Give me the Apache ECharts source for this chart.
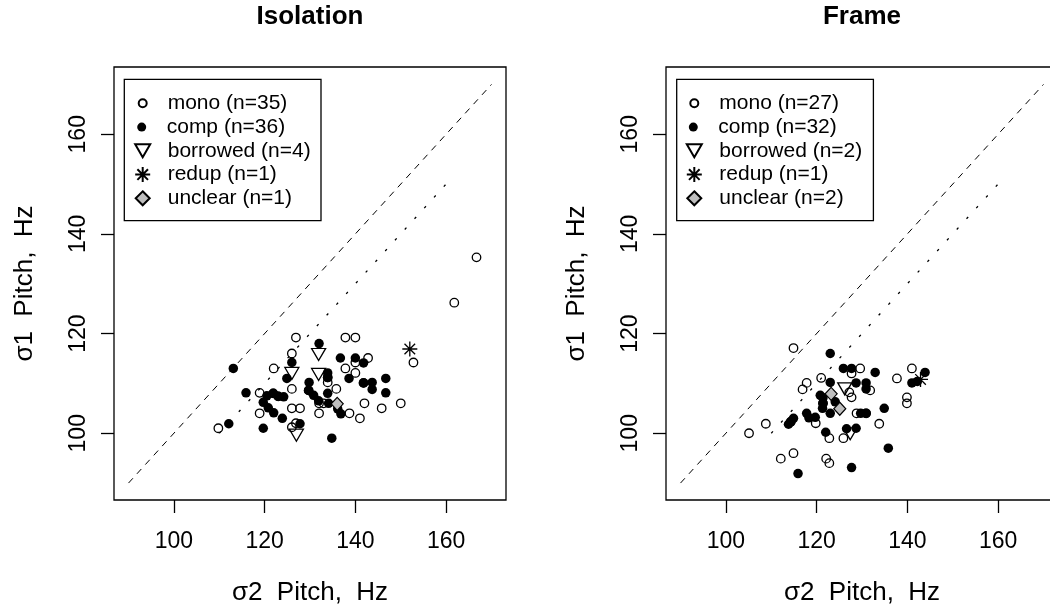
<!DOCTYPE html>
<html>
<head>
<meta charset="utf-8">
<script src="https://cdn.jsdelivr.net/npm/echarts@6/dist/echarts.min.js"></script>
<style>
  html, body { margin: 0; padding: 0; background: #ffffff; }
  #chart { width: 1050px; height: 613px; }
</style>
</head>
<body>
<div id="chart"></div>
<script>
// ---- data: sigma2 pitch (x, Hz) vs sigma1 pitch (y, Hz) ----
const panelTitles = ['Isolation', 'Frame'];
const xTicks = [100, 120, 140, 160];
const yTicks = [100, 120, 140, 160];
const xAxisTitle = 'σ2  Pitch,  Hz';
const yAxisTitle = 'σ1  Pitch,  Hz';

const isoLabels = ['mono (n=35)', 'comp (n=36)', 'borrowed (n=4)', 'redup (n=1)', 'unclear (n=1)'];
const frameLabels = ['mono (n=27)', 'comp (n=32)', 'borrowed (n=2)', 'redup (n=1)', 'unclear (n=2)'];

const isoMono = [
  [166.7, 135.3], [161.8, 126.2], [152.8, 114.2], [150.0, 106.0], [145.8, 105.0],
  [142.0, 106.0], [141.0, 103.0], [138.7, 104.0], [137.8, 119.2], [140.0, 119.2],
  [142.8, 115.1], [140.0, 114.2], [137.8, 113.0], [140.0, 112.1], [135.8, 108.9],
  [133.9, 110.2], [132.0, 106.0], [133.0, 106.0], [132.0, 104.0], [126.0, 105.0],
  [127.8, 105.0], [126.0, 108.9], [126.0, 116.0], [126.9, 119.2], [122.0, 113.0],
  [118.9, 108.1], [118.9, 104.0], [109.8, 101.0], [126.0, 101.2], [126.9, 102.0],
  [121.9, 108.0], [129.7, 108.6], [123.0, 107.4], [133.9, 111.2], [141.8, 110.1]
];
const isoComp = [
  [113.1, 113.0], [112.1, 101.9], [119.7, 101.0], [115.9, 108.1], [119.7, 106.2],
  [120.8, 105.1], [122.0, 104.1], [123.9, 103.0], [120.5, 107.5], [121.9, 108.0],
  [123.0, 107.4], [124.2, 107.3], [126.0, 114.2], [124.9, 111.0], [127.8, 101.9],
  [129.8, 110.2], [129.7, 108.6], [130.8, 107.6], [131.9, 106.5], [132.0, 118.0],
  [133.9, 112.1], [133.9, 111.2], [133.9, 108.0], [134.8, 99.0], [136.7, 115.1],
  [140.0, 115.1], [141.8, 114.1], [138.6, 111.0], [141.8, 110.1], [143.7, 110.2],
  [143.7, 108.8], [146.7, 111.0], [146.7, 108.1], [136.1, 104.9], [136.8, 103.9],
  [134.1, 106.0]
];
const isoBorrowed = [[131.9, 115.8], [131.9, 111.8], [126.0, 112.0], [127.0, 99.6]];
const isoRedup = [[152.0, 116.9]];
const isoUnclear = [[136.0, 105.9]];

const frameMono = [
  [114.9, 117.1], [108.8, 101.9], [105.1, 100.0], [112.1, 94.9], [114.9, 96.0],
  [122.1, 94.9], [122.8, 94.0], [117.8, 110.1], [116.9, 108.8], [121.0, 111.1],
  [119.8, 102.0], [122.8, 99.0], [125.9, 99.0], [127.7, 112.0], [129.6, 113.0],
  [127.7, 107.2], [131.8, 108.6], [128.8, 104.0], [133.8, 101.9], [137.7, 111.0],
  [141.0, 113.0], [139.9, 107.2], [139.9, 106.0], [127.2, 108.2], [121.4, 106.0],
  [130.9, 104.0], [114.3, 102.3]
];
const frameComp = [
  [123.0, 116.0], [125.9, 113.0], [127.7, 113.0], [132.9, 112.2], [123.0, 110.2],
  [128.7, 110.1], [130.9, 110.1], [130.9, 108.9], [121.4, 107.1], [121.4, 106.0],
  [121.3, 105.0], [117.8, 104.0], [118.3, 103.1], [119.7, 103.2], [114.9, 103.0],
  [114.3, 102.3], [113.8, 101.8], [123.0, 104.0], [122.0, 100.2], [126.6, 100.9],
  [128.7, 101.0], [129.7, 104.0], [130.9, 104.0], [134.9, 105.0], [135.8, 97.0],
  [127.7, 93.1], [115.9, 91.9], [141.0, 110.1], [143.9, 112.2], [124.1, 106.3],
  [120.8, 107.6], [142.2, 110.4]
];
const frameBorrowed = [[126.2, 108.9], [127.4, 99.9]];
const frameRedup = [[142.9, 110.8]];
const frameUnclear = [[123.2, 107.9], [125.1, 104.9]];

// reference lines: identity and a 10 Hz offset
const identityLine = [[90, 90], [170, 170]];
const offsetLine = [[110, 100], [160, 150]];

// ---- styling ----
const FONT = '"Liberation Sans", Arial, Helvetica, sans-serif';
const STAR = 'path://M0,8L16,8M8,0L8,16M2.34,2.34L13.66,13.66M13.66,2.34L2.34,13.66';
const TRI_DOWN = 'path://M0,0L14,0L7,12Z';
const kinds = ['mono', 'comp', 'borrowed', 'redup', 'unclear'];
const kindStyle = {
  mono:     { symbol: 'circle',  size: 8.5,      item: { color: 'rgba(0,0,0,0)', borderColor: '#000', borderWidth: 1.3, opacity: 1 } },
  comp:     { symbol: 'circle',  size: 9.5,      item: { color: '#000', borderColor: '#000', borderWidth: 0, opacity: 1 } },
  borrowed: { symbol: TRI_DOWN,  size: [14, 12], item: { color: 'rgba(0,0,0,0)', borderColor: '#000', borderWidth: 1.3, opacity: 1 } },
  redup:    { symbol: STAR,      size: 15,       item: { color: '#000', borderColor: '#000', borderWidth: 1.3, opacity: 1 } },
  unclear:  { symbol: 'diamond', size: [12, 13], item: { color: '#bebebe', borderColor: '#000', borderWidth: 1.2, opacity: 1 } }
};
const legendIconSize = { mono: [8, 8], comp: [9, 9], borrowed: [15, 13], redup: [15, 15], unclear: [14, 14] };

const panels = [
  { left: 114, legendX: 141.7, legendBox: [124.3, 79.3, 196.7, 141.4], titleX: 310,
    labels: isoLabels, data: [isoMono, isoComp, isoBorrowed, isoRedup, isoUnclear] },
  { left: 666, legendX: 693.3, legendBox: [676.7, 79.3, 196.7, 141.4], titleX: 862,
    labels: frameLabels, data: [frameMono, frameComp, frameBorrowed, frameRedup, frameUnclear] }
];
const GRID_TOP = 67, GRID_W = 392, GRID_H = 433;
const legendRowY = [103.3, 127.1, 150.8, 174.6, 198.3];

const grids = [], xAxes = [], yAxes = [], series = [], legends = [], graphics = [];

panels.forEach((p, i) => {
  grids.push({
    left: p.left, top: GRID_TOP, width: GRID_W, height: GRID_H,
    show: true, borderColor: '#000', borderWidth: 1.3, backgroundColor: 'transparent',
    containLabel: false, outerBoundsMode: 'none'
  });
  xAxes.push({
    type: 'value', gridIndex: i, min: 86.8, max: 173.2,
    axisLine: { show: false }, splitLine: { show: false },
    axisTick: { show: true, length: 13, customValues: xTicks, lineStyle: { color: '#000', width: 1.3 } },
    axisLabel: { customValues: xTicks, margin: 30, color: '#000', fontSize: 23, fontFamily: FONT },
    name: xAxisTitle, nameLocation: 'middle', nameGap: 80,
    nameTextStyle: { color: '#000', fontSize: 26, fontFamily: FONT }
  });
  yAxes.push({
    type: 'value', gridIndex: i, min: 86.6, max: 173.5,
    axisLine: { show: false }, splitLine: { show: false },
    axisTick: { show: true, length: 13, customValues: yTicks, lineStyle: { color: '#000', width: 1.3 } },
    axisLabel: { customValues: yTicks, rotate: 90, margin: 24, color: '#000', fontSize: 23, fontFamily: FONT },
    name: yAxisTitle, nameLocation: 'middle', nameGap: 76,
    nameTextStyle: { color: '#000', fontSize: 26, fontFamily: FONT }
  });

  series.push({
    type: 'line', xAxisIndex: i, yAxisIndex: i, data: identityLine, symbol: 'none', silent: true,
    lineStyle: { color: '#000', width: 1, type: [6.5, 6] }, z: 1
  });
  series.push({
    type: 'line', xAxisIndex: i, yAxisIndex: i, data: offsetLine, symbol: 'none', silent: true,
    lineStyle: { color: '#000', width: 1.3, type: [2.5, 12] }, z: 1
  });

  kinds.forEach((k, j) => {
    const s = kindStyle[k];
    series.push({
      type: 'scatter', name: p.labels[j], xAxisIndex: i, yAxisIndex: i,
      data: p.data[j], symbol: s.symbol, symbolSize: s.size,
      itemStyle: s.item, silent: true, z: 2 + j
    });
    const sz = legendIconSize[k];
    legends.push({
      left: p.legendX - sz[0] / 2, top: legendRowY[j] - 10.5, padding: 0,
      orient: 'vertical', itemWidth: sz[0], itemHeight: sz[1], itemGap: 0,
      selectedMode: false, symbolKeepAspect: true,
      itemStyle: { opacity: 1 },
      data: [p.labels[j]],
      textStyle: { color: '#000', fontSize: 21, fontFamily: FONT, padding: [0, 0, 0, 20 - sz[0] / 2] }
    });
  });

  graphics.push({
    type: 'rect', silent: true,
    shape: { x: p.legendBox[0], y: p.legendBox[1], width: p.legendBox[2], height: p.legendBox[3] },
    style: { fill: 'none', stroke: '#000', lineWidth: 1.3 }
  });
  graphics.push({
    type: 'text', silent: true, x: p.titleX, y: 17,
    style: { text: panelTitles[i], font: 'bold 26px ' + FONT, fill: '#000',
             align: 'center', verticalAlign: 'middle', textAlign: 'center', textVerticalAlign: 'middle' }
  });
});

const chart = echarts.init(document.getElementById('chart'), null, { renderer: 'canvas' });
chart.setOption({
  animation: false,
  backgroundColor: '#ffffff',
  textStyle: { fontFamily: FONT },
  grid: grids,
  xAxis: xAxes,
  yAxis: yAxes,
  legend: legends,
  series: series,
  graphic: graphics
});
</script>
</body>
</html>
